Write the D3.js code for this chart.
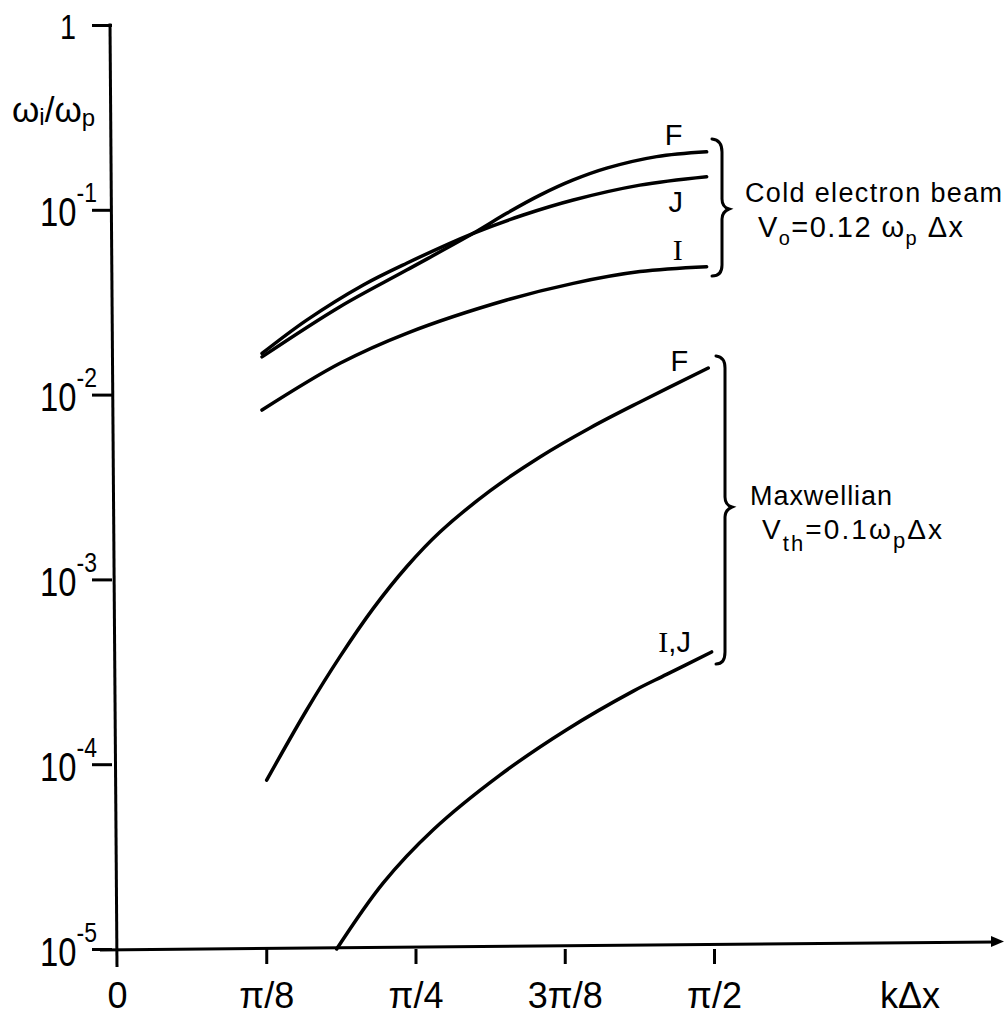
<!DOCTYPE html>
<html><head><meta charset="utf-8">
<script src="https://cdn.jsdelivr.net/npm/d3@7"></script>
<style>
body{margin:0;background:#fff}
svg text{font-family:"Liberation Sans",Arial,sans-serif;fill:#000}
</style></head><body>
<svg id="chart" width="1007" height="1015"></svg>
<script>
const PI = Math.PI;
// x ticks (kΔx)
const xTickValues = [0, PI/8, PI/4, 3*PI/8, PI/2];
const xTickLabels = ["0", "π/8", "π/4", "3π/8", "π/2"];
// y ticks (ω_i/ω_p), log scale
const yTickValues = [1, 1e-1, 1e-2, 1e-3, 1e-4, 1e-5];
const yTickExponents = [null, "-1", "-2", "-3", "-4", "-5"];

// Cold electron beam, V0 = 0.12 ωp Δx
const coldF_k = [0.3815, 0.5867, 0.7622, 0.9374, 1.0253, 1.1129, 1.2005, 1.2883, 1.4199, 1.5515];
const coldF_w = [0.0160, 0.0299, 0.0472, 0.0746, 0.0957, 0.120, 0.145, 0.168, 0.194, 0.206];
const coldJ_k = [0.3815, 0.4991, 0.6480, 0.7622, 0.9374, 1.0689, 1.2005, 1.3760, 1.5515];
const coldJ_w = [0.0167, 0.0253, 0.0392, 0.0514, 0.0746, 0.0937, 0.113, 0.136, 0.151];
const coldI_k = [0.3815, 0.5867, 0.7622, 1.0253, 1.2005, 1.3760, 1.5515];
const coldI_w = [0.00825, 0.01477, 0.02147, 0.0325, 0.0400, 0.0463, 0.0492];
// Maxwellian, Vth = 0.1 ωp Δx
const maxF_k = [0.3938, 0.4991, 0.5867, 0.6743, 0.7622, 0.8498, 0.9813, 1.1129, 1.2444, 1.3760, 1.5557];
const maxF_w = [8.2e-5, 1.965e-4, 3.82e-4, 6.97e-4, 1.171e-3, 1.805e-3, 3.01e-3, 4.6e-3, 6.6e-3, 9.12e-3, 1.392e-2];
const maxIJ_k = [0.5780, 0.7006, 0.8321, 1.0076, 1.1831, 1.3583, 1.4462, 1.5646];
const maxIJ_w = [1.0e-5, 2.28e-5, 4.42e-5, 8.73e-5, 1.537e-4, 2.486e-4, 3.06e-4, 4.05e-4];

const seriesNames = ["F", "J", "I", "F", "I,J"];

const svg = d3.select("#chart");
const x = d3.scaleLinear().domain([0, PI/2]).range([117, 714]);
const y = d3.scaleLog().domain([1e-5, 1]).range([949, 25]);

// ---- Y axis ----
const yAxis = d3.axisLeft(y).tickValues(yTickValues).tickSize(20).tickFormat(() => "");
const gy = svg.append("g").attr("transform", "translate(112,0)").call(yAxis);
gy.select(".domain").remove();
gy.selectAll(".tick line").attr("stroke", "#000").attr("stroke-width", 3);
gy.selectAll(".tick").each(function(d, i) {
  const g = d3.select(this);
  g.select("text").remove();
  if (yTickExponents[i] === null) {
    g.append("text").attr("transform", "translate(-44,13) scale(0.8,1)")
      .attr("text-anchor", "middle").attr("font-size", 36).text("1");
  } else {
    const t = g.append("text").attr("transform", "translate(-15,16) scale(0.82,1)")
      .attr("text-anchor", "end");
    t.append("tspan").attr("font-size", 40).text("10");
    t.append("tspan").attr("font-size", 28).attr("dy", -24).text(yTickExponents[i]);
  }
});
svg.append("line").attr("x1", 110).attr("y1", y(1) - 1.5).attr("x2", 117).attr("y2", 967)
  .attr("stroke", "#000").attr("stroke-width", 3);

// ---- X axis ----
const xAxis = d3.axisBottom(x).tickValues(xTickValues).tickSize(15).tickPadding(18)
  .tickFormat((d, i) => xTickLabels[i]);
const gx = svg.append("g").attr("transform", `translate(0,${y(1e-5)})`).call(xAxis);
gx.select(".domain").remove();
gx.selectAll(".tick line").attr("stroke", "#000").attr("stroke-width", 3)
  .attr("opacity", (d, i) => i === 0 ? 0 : 1);
gx.selectAll(".tick text").attr("font-size", 36).attr("fill", "#000")
  .attr("font-family", "'Liberation Sans',sans-serif");
svg.append("line").attr("x1", 100).attr("y1", 950).attr("x2", 995).attr("y2", 942)
  .attr("stroke", "#000").attr("stroke-width", 3);
svg.append("path").attr("d", "M1004,941.5 L991,936 L991,947 Z").attr("fill", "#000");
svg.append("text").attr("x", 910).attr("y", 1008).attr("text-anchor", "middle")
  .attr("font-size", 36).text("kΔx");

// ---- Y label ----
const yl = svg.append("text").attr("x", 12).attr("y", 122).attr("font-size", 35);
yl.append("tspan").text("ω");
yl.append("tspan").attr("font-size", 24).attr("dy", 3).text("i");
yl.append("tspan").attr("dy", -3).text("/ω");
yl.append("tspan").attr("font-size", 24).attr("dy", 4).text("p");

// ---- Curves ----
const line = d3.line().x(d => x(d[0])).y(d => y(d[1])).curve(d3.curveCatmullRom.alpha(0.5));
const series = [
  [coldF_k, coldF_w], [coldJ_k, coldJ_w], [coldI_k, coldI_w],
  [maxF_k, maxF_w], [maxIJ_k, maxIJ_w]
];
const labelOffsets = [[-33, -7], [-31, 35], [-29, -7], [-29, 3], [-37, 0]];
series.forEach(([ks, ws], i) => {
  const pts = ks.map((k, j) => [k, ws[j]]);
  svg.append("path").attr("d", line(pts)).attr("fill", "none").attr("stroke", "#000")
    .attr("stroke-width", 3.5).attr("stroke-linecap", "round").attr("stroke-linejoin", "round");
  const last = pts[pts.length - 1];
  const t = svg.append("text").attr("x", x(last[0]) + labelOffsets[i][0])
    .attr("y", y(last[1]) + labelOffsets[i][1]).attr("text-anchor", "middle").attr("font-size", 29);
  seriesNames[i].split("").forEach(ch => {
    const s = t.append("tspan").text(ch);
    if (ch === "I") s.attr("font-family", "'Liberation Serif',serif").attr("font-size", 30);
  });
});

// ---- Braces ----
svg.append("path")
  .attr("d", "M712,139 Q722,140 722,152 L722,199 Q722,207 729,209 Q722,212 722,219 L722,265 Q722,276 712,276")
  .attr("fill", "none").attr("stroke", "#000").attr("stroke-width", 3).attr("stroke-linecap", "round");
svg.append("path")
  .attr("d", "M716,356 Q725,357 725,368 L725,497 Q725,505 732,507 Q725,510 725,517 L725,652 Q725,664 716,664")
  .attr("fill", "none").attr("stroke", "#000").attr("stroke-width", 3).attr("stroke-linecap", "round");

// ---- Group annotations ----
svg.append("text").attr("x", 745).attr("y", 202).attr("font-size", 27)
  .attr("textLength", 257).attr("lengthAdjust", "spacing").text("Cold electron beam");
const v0 = svg.append("text").attr("x", 758).attr("y", 237).attr("font-size", 29)
  .attr("textLength", 205).attr("lengthAdjust", "spacing");
v0.append("tspan").text("V");
v0.append("tspan").attr("font-size", 20).attr("dy", 8).text("o");
v0.append("tspan").attr("dy", -8).text("=0.12 ω");
v0.append("tspan").attr("font-size", 20).attr("dy", 8).text("p");
v0.append("tspan").attr("dy", -8).text(" Δx");

svg.append("text").attr("x", 750).attr("y", 505).attr("font-size", 27)
  .attr("textLength", 142).attr("lengthAdjust", "spacing").text("Maxwellian");
const vth = svg.append("text").attr("x", 762).attr("y", 539).attr("font-size", 28)
  .attr("textLength", 180).attr("lengthAdjust", "spacing");
vth.append("tspan").text("V");
vth.append("tspan").attr("font-size", 22).attr("dy", 12).text("th");
vth.append("tspan").attr("dy", -12).text("=0.1ω");
vth.append("tspan").attr("font-size", 22).attr("dy", 9).text("p");
vth.append("tspan").attr("dy", -9).text("Δx");
</script>
</body></html>
